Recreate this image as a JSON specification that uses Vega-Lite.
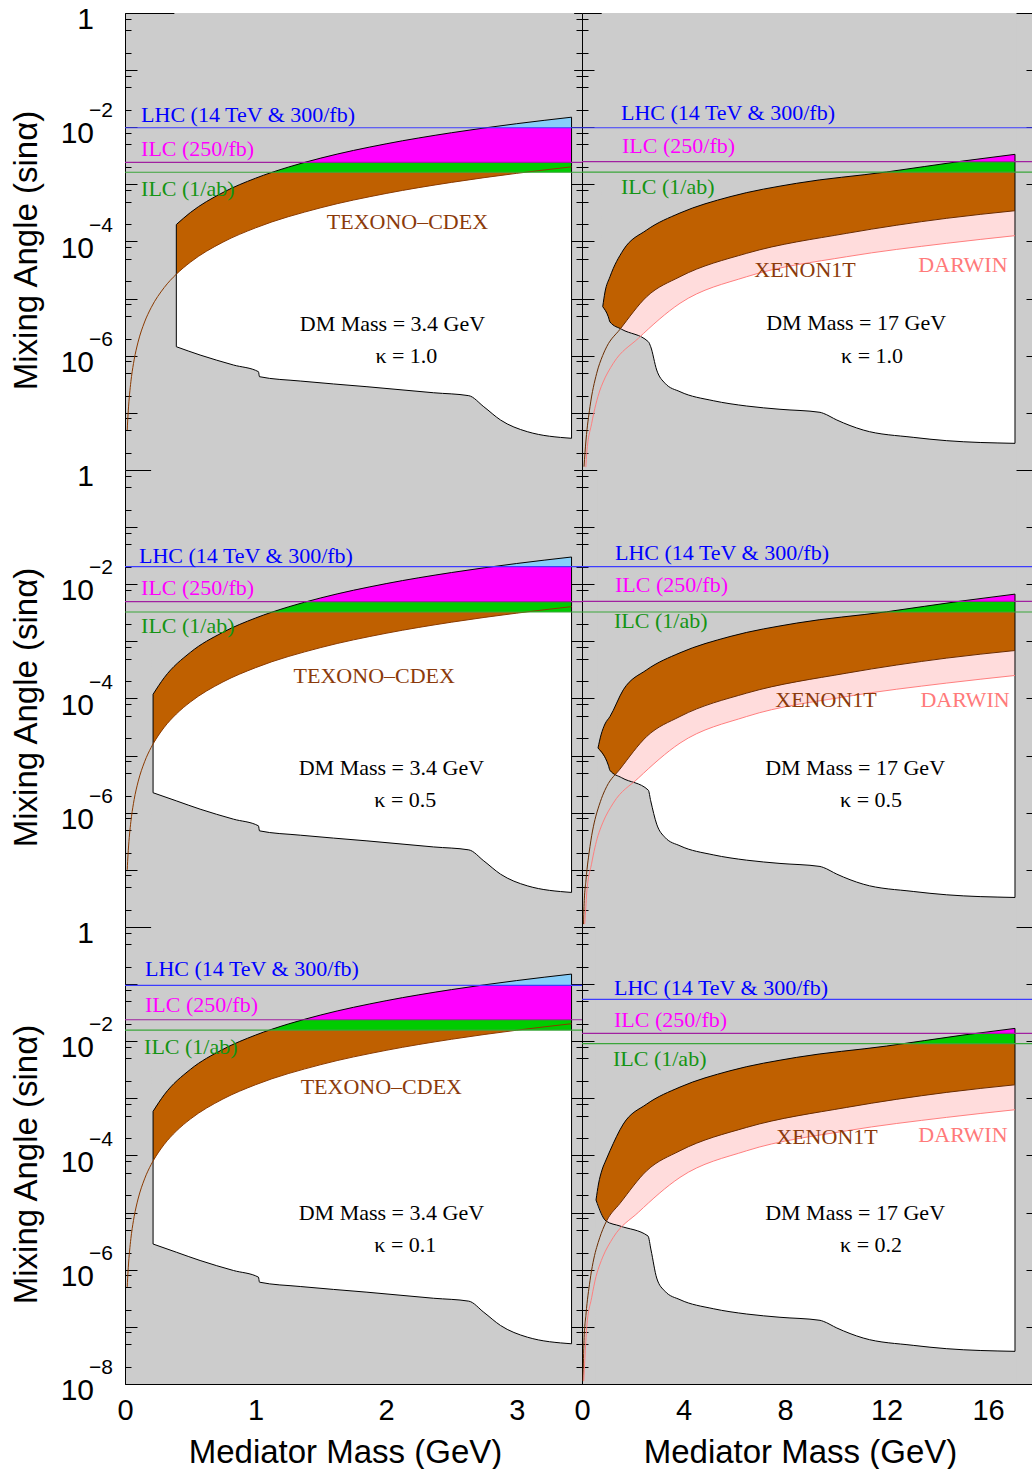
{
"$schema": "https://vega.github.io/schema/vega-lite/v6.json",
"background": "white",
"padding": {"left": 10, "top": 5, "right": 0, "bottom": 0},
"columns": 2,
"spacing": 0,
"bounds": "flush",
"config": {
  "view": {"fill": "#cccccc", "stroke": null},
  "axis": {"grid": false, "zindex": 1, "domainColor": "black", "domainWidth": 1, "tickColor": "black", "tickWidth": 1, "labelFont": "Liberation Sans", "labelFontSize": 29, "labelColor": "black", "titleFont": "Liberation Sans", "titleFontSize": 33, "titleFontWeight": "normal", "titleColor": "black", "labelFlush": false, "labelOverlap": false}
},
"datasets": {
"TL": [
{"s":"top","x":0.378,"v":1.832e-4,"ext":1},
{"s":"top","x":0.393,"v":1.98e-4},
{"s":"top","x":0.5,"v":3.205e-4},
{"s":"top","x":0.75,"v":7.211e-4},
{"s":"top","x":1.0,"v":1.282e-3},
{"s":"top","x":1.25,"v":2.003e-3},
{"s":"top","x":1.5,"v":2.885e-3},
{"s":"top","x":2.0,"v":5.128e-3},
{"s":"top","x":2.5,"v":8.013e-3},
{"s":"top","x":3.0,"v":1.154e-2},
{"s":"top","x":3.42,"v":1.4995e-2},
{"s":"top","x":3.44,"v":1.517e-2,"ext":1},
{"s":"bot","x":0.378,"v":1.479e-6,"ext":1},
{"s":"bot","x":0.393,"v":1.439e-6},
{"s":"bot","x":0.575,"v":1.03e-6},
{"s":"bot","x":0.83,"v":6.89e-7},
{"s":"bot","x":1.022,"v":5.26e-7},
{"s":"bot","x":1.03,"v":4.3e-7},
{"s":"bot","x":1.342,"v":3.61e-7},
{"s":"bot","x":1.853,"v":2.87e-7},
{"s":"bot","x":2.364,"v":2.25e-7},
{"s":"bot","x":2.633,"v":2.0e-7},
{"s":"bot","x":2.748,"v":1.28e-7},
{"s":"bot","x":2.876,"v":7.5e-8},
{"s":"bot","x":3.081,"v":4.69e-8},
{"s":"bot","x":3.42,"v":3.59e-8},
{"s":"bot","x":3.44,"v":3.56e-8,"ext":1},
{"s":"brown","x":0.017,"v":5.01e-8},
{"s":"brown","x":0.02,"v":6.93e-8},
{"s":"brown","x":0.025,"v":1.083e-7},
{"s":"brown","x":0.03,"v":1.56e-7},
{"s":"brown","x":0.04,"v":2.773e-7},
{"s":"brown","x":0.05,"v":4.333e-7},
{"s":"brown","x":0.07,"v":8.49e-7},
{"s":"brown","x":0.1,"v":1.733e-6},
{"s":"brown","x":0.15,"v":3.899e-6},
{"s":"brown","x":0.2,"v":6.932e-6},
{"s":"brown","x":0.3,"v":1.56e-5},
{"s":"brown","x":0.393,"v":2.677e-5},
{"s":"brown","x":0.5,"v":4.333e-5},
{"s":"brown","x":0.75,"v":9.748e-5},
{"s":"brown","x":1.0,"v":1.733e-4},
{"s":"brown","x":1.5,"v":3.899e-4},
{"s":"brown","x":2.0,"v":6.932e-4},
{"s":"brown","x":2.5,"v":1.083e-3},
{"s":"brown","x":3.0,"v":1.56e-3},
{"s":"brown","x":3.42,"v":2.027e-3},
{"s":"c","x0":0.393,"x1":3.42,"b0":1.439e-6,"t0":1.98e-4,"b1":3.59e-8,"t1":1.4995e-2,"lhc":0.0098,"i250":0.00243,"i1ab":0.00163},
{"s":"tl","x":0.123,"y":0.0164,"t":"LHC (14 TeV & 300/fb)","k":"lhc"},
{"s":"tl","x":0.123,"y":0.00416,"t":"ILC (250/fb)","k":"i250"},
{"s":"tl","x":0.123,"y":0.00083,"t":"ILC (1/ab)","k":"i1ab"},
{"s":"tc","x":2.163,"y":2.19e-4,"t":"TEXONO–CDEX","k":"exp"},
{"s":"tc","x":2.048,"y":3.6e-6,"t":"DM Mass = 3.4 GeV","k":"dm"},
{"s":"tc","x":2.155,"y":9.9e-7,"t":"κ  = 1.0","k":"dm"},
{"s":"yl","v":1,"b":"1","e":""},
{"s":"yl","v":0.01,"b":"10","e":"−2"},
{"s":"yl","v":1e-4,"b":"10","e":"−4"},
{"s":"yl","v":1e-6,"b":"10","e":"−6"}
],
"ML": [
{"s":"top","x":0.2,"v":1.026e-4,"ext":1},
{"s":"top","x":0.215,"v":1.185e-4},
{"s":"top","x":0.3,"v":2.308e-4},
{"s":"top","x":0.5,"v":6.41e-4},
{"s":"top","x":0.75,"v":1.442e-3},
{"s":"top","x":1.0,"v":2.564e-3},
{"s":"top","x":1.25,"v":4.006e-3},
{"s":"top","x":1.5,"v":5.769e-3},
{"s":"top","x":2.0,"v":1.0256e-2},
{"s":"top","x":2.5,"v":1.6025e-2},
{"s":"top","x":3.0,"v":2.3076e-2},
{"s":"top","x":3.42,"v":2.999e-2},
{"s":"top","x":3.44,"v":3.034e-2,"ext":1},
{"s":"bot","x":0.2,"v":2.3e-6,"ext":1},
{"s":"bot","x":0.215,"v":2.24e-6},
{"s":"bot","x":0.393,"v":1.615e-6},
{"s":"bot","x":0.575,"v":1.156e-6},
{"s":"bot","x":0.83,"v":7.73e-7},
{"s":"bot","x":1.022,"v":5.9e-7},
{"s":"bot","x":1.03,"v":4.82e-7},
{"s":"bot","x":1.342,"v":4.05e-7},
{"s":"bot","x":1.853,"v":3.22e-7},
{"s":"bot","x":2.364,"v":2.52e-7},
{"s":"bot","x":2.633,"v":2.24e-7},
{"s":"bot","x":2.748,"v":1.436e-7},
{"s":"bot","x":2.876,"v":8.42e-8},
{"s":"bot","x":3.081,"v":5.26e-8},
{"s":"bot","x":3.42,"v":4.03e-8},
{"s":"bot","x":3.44,"v":4.0e-8,"ext":1},
{"s":"brown","x":0.017,"v":1.002e-7},
{"s":"brown","x":0.02,"v":1.386e-7},
{"s":"brown","x":0.025,"v":2.166e-7},
{"s":"brown","x":0.03,"v":3.12e-7},
{"s":"brown","x":0.04,"v":5.546e-7},
{"s":"brown","x":0.05,"v":8.666e-7},
{"s":"brown","x":0.07,"v":1.698e-6},
{"s":"brown","x":0.1,"v":3.466e-6},
{"s":"brown","x":0.15,"v":7.798e-6},
{"s":"brown","x":0.2,"v":1.386e-5},
{"s":"brown","x":0.215,"v":1.602e-5},
{"s":"brown","x":0.3,"v":3.12e-5},
{"s":"brown","x":0.393,"v":5.354e-5},
{"s":"brown","x":0.5,"v":8.666e-5},
{"s":"brown","x":0.75,"v":1.95e-4},
{"s":"brown","x":1.0,"v":3.466e-4},
{"s":"brown","x":1.5,"v":7.798e-4},
{"s":"brown","x":2.0,"v":1.386e-3},
{"s":"brown","x":2.5,"v":2.166e-3},
{"s":"brown","x":3.0,"v":3.12e-3},
{"s":"brown","x":3.42,"v":4.054e-3},
{"s":"c","x0":0.215,"x1":3.42,"b0":2.24e-6,"t0":1.185e-4,"b1":4.03e-8,"t1":2.999e-2,"lhc":0.0203,"i250":0.00495,"i1ab":0.00327},
{"s":"tl","x":0.107,"y":0.0312,"t":"LHC (14 TeV & 300/fb)","k":"lhc"},
{"s":"tl","x":0.123,"y":0.0086,"t":"ILC (250/fb)","k":"i250"},
{"s":"tl","x":0.123,"y":0.00186,"t":"ILC (1/ab)","k":"i1ab"},
{"s":"tc","x":1.909,"y":2.48e-4,"t":"TEXONO–CDEX","k":"exp"},
{"s":"tc","x":2.04,"y":6.07e-6,"t":"DM Mass = 3.4 GeV","k":"dm"},
{"s":"tc","x":2.147,"y":1.67e-6,"t":"κ  = 0.5","k":"dm"},
{"s":"yl","v":1,"b":"1","e":""},
{"s":"yl","v":0.01,"b":"10","e":"−2"},
{"s":"yl","v":1e-4,"b":"10","e":"−4"},
{"s":"yl","v":1e-6,"b":"10","e":"−6"}
],
"BL": [
{"s":"top","x":0.2,"v":5.128e-4,"ext":1},
{"s":"top","x":0.215,"v":5.926e-4},
{"s":"top","x":0.3,"v":1.154e-3},
{"s":"top","x":0.5,"v":3.205e-3},
{"s":"top","x":0.75,"v":7.211e-3},
{"s":"top","x":1.0,"v":1.282e-2},
{"s":"top","x":1.25,"v":2.003e-2},
{"s":"top","x":1.5,"v":2.885e-2},
{"s":"top","x":2.0,"v":5.128e-2},
{"s":"top","x":2.5,"v":8.013e-2},
{"s":"top","x":3.0,"v":0.1154},
{"s":"top","x":3.42,"v":0.14995},
{"s":"top","x":3.44,"v":0.1517,"ext":1},
{"s":"bot","x":0.2,"v":2.9e-6,"ext":1},
{"s":"bot","x":0.215,"v":2.82e-6},
{"s":"bot","x":0.393,"v":2.029e-6},
{"s":"bot","x":0.575,"v":1.452e-6},
{"s":"bot","x":0.83,"v":9.71e-7},
{"s":"bot","x":1.022,"v":7.42e-7},
{"s":"bot","x":1.03,"v":6.06e-7},
{"s":"bot","x":1.342,"v":5.09e-7},
{"s":"bot","x":1.853,"v":4.05e-7},
{"s":"bot","x":2.364,"v":3.17e-7},
{"s":"bot","x":2.633,"v":2.82e-7},
{"s":"bot","x":2.748,"v":1.8e-7},
{"s":"bot","x":2.876,"v":1.058e-7},
{"s":"bot","x":3.081,"v":6.61e-8},
{"s":"bot","x":3.42,"v":5.06e-8},
{"s":"bot","x":3.44,"v":5.02e-8,"ext":1},
{"s":"brown","x":0.017,"v":5.01e-7},
{"s":"brown","x":0.02,"v":6.93e-7},
{"s":"brown","x":0.025,"v":1.083e-6},
{"s":"brown","x":0.03,"v":1.56e-6},
{"s":"brown","x":0.04,"v":2.773e-6},
{"s":"brown","x":0.05,"v":4.333e-6},
{"s":"brown","x":0.07,"v":8.49e-6},
{"s":"brown","x":0.1,"v":1.733e-5},
{"s":"brown","x":0.15,"v":3.899e-5},
{"s":"brown","x":0.2,"v":6.932e-5},
{"s":"brown","x":0.215,"v":8.011e-5},
{"s":"brown","x":0.3,"v":1.56e-4},
{"s":"brown","x":0.393,"v":2.677e-4},
{"s":"brown","x":0.5,"v":4.333e-4},
{"s":"brown","x":0.75,"v":9.748e-4},
{"s":"brown","x":1.0,"v":1.733e-3},
{"s":"brown","x":1.5,"v":3.899e-3},
{"s":"brown","x":2.0,"v":6.932e-3},
{"s":"brown","x":2.5,"v":1.083e-2},
{"s":"brown","x":3.0,"v":1.56e-2},
{"s":"brown","x":3.42,"v":2.027e-2},
{"s":"c","x0":0.215,"x1":3.42,"b0":2.82e-6,"t0":5.926e-4,"b1":5.06e-8,"t1":0.14995,"lhc":0.0953,"i250":0.0238,"i1ab":0.0157},
{"s":"tl","x":0.153,"y":0.184,"t":"LHC (14 TeV & 300/fb)","k":"lhc"},
{"s":"tl","x":0.153,"y":0.0431,"t":"ILC (250/fb)","k":"i250"},
{"s":"tl","x":0.146,"y":0.00793,"t":"ILC (1/ab)","k":"i1ab"},
{"s":"tc","x":1.963,"y":1.58e-3,"t":"TEXONO–CDEX","k":"exp"},
{"s":"tc","x":2.04,"y":9.85e-6,"t":"DM Mass = 3.4 GeV","k":"dm"},
{"s":"tc","x":2.147,"y":2.71e-6,"t":"κ  = 0.1","k":"dm"},
{"s":"yl","v":1,"b":"1","e":""},
{"s":"yl","v":0.01,"b":"10","e":"−2"},
{"s":"yl","v":1e-4,"b":"10","e":"−4"},
{"s":"yl","v":1e-6,"b":"10","e":"−6"},
{"s":"yl","v":1e-8,"b":"10","e":"−8"}
],
"TR": [
{"s":"top","x":0.776,"v":5.56e-6,"ext":1},
{"s":"top","x":0.816,"v":7.23e-6},
{"s":"top","x":0.906,"v":1.306e-5},
{"s":"top","x":1.103,"v":2.421e-5},
{"s":"top","x":1.627,"v":7.1e-5},
{"s":"top","x":2.549,"v":1.589e-4},
{"s":"top","x":3.861,"v":3.155e-4},
{"s":"top","x":5.831,"v":6.08e-4},
{"s":"top","x":8.459,"v":1.045e-3},
{"s":"top","x":12.0,"v":1.648e-3},
{"s":"top","x":15.01,"v":2.564e-3},
{"s":"top","x":17.06,"v":3.357e-3},
{"s":"top","x":17.12,"v":3.388e-3,"ext":1},
{"s":"bot","x":0.776,"v":7.78e-6,"ext":1},
{"s":"bot","x":0.816,"v":7.23e-6},
{"s":"bot","x":1.036,"v":4.82e-6},
{"s":"bot","x":1.103,"v":3.9e-6},
{"s":"bot","x":1.564,"v":2.904e-6},
{"s":"bot","x":2.612,"v":1.762e-6},
{"s":"bot","x":2.707,"v":1.439e-6},
{"s":"bot","x":2.943,"v":5.62e-7},
{"s":"bot","x":3.27,"v":3.3e-7},
{"s":"bot","x":3.861,"v":2.35e-7},
{"s":"bot","x":5.173,"v":1.633e-7},
{"s":"bot","x":6.489,"v":1.318e-7},
{"s":"bot","x":7.801,"v":1.156e-7},
{"s":"bot","x":9.377,"v":1.023e-7},
{"s":"bot","x":9.507,"v":9.82e-8},
{"s":"bot","x":10.04,"v":7.5e-8},
{"s":"bot","x":11.08,"v":5.01e-8},
{"s":"bot","x":13.05,"v":3.73e-8},
{"s":"bot","x":14.37,"v":3.26e-8},
{"s":"bot","x":17.06,"v":2.93e-8},
{"s":"bot","x":17.12,"v":2.92e-8,"ext":1},
{"s":"brown","x":0.079,"v":1.143e-8},
{"s":"brown","x":0.158,"v":3.35e-8},
{"s":"brown","x":0.315,"v":1.282e-7},
{"s":"brown","x":0.579,"v":4.93e-7},
{"s":"brown","x":0.816,"v":1.012e-6},
{"s":"brown","x":0.973,"v":1.439e-6},
{"s":"brown","x":1.497,"v":2.904e-6},
{"s":"brown","x":2.549,"v":1.081e-5},
{"s":"brown","x":3.861,"v":2.421e-5},
{"s":"brown","x":6.489,"v":6.21e-5},
{"s":"brown","x":10.43,"v":1.39e-4},
{"s":"brown","x":14.37,"v":2.547e-4},
{"s":"brown","x":17.06,"v":3.459e-4},
{"s":"pink","x":0.152,"v":1.122e-8},
{"s":"pink","x":0.185,"v":1.959e-8},
{"s":"pink","x":0.382,"v":6.56e-8},
{"s":"pink","x":0.709,"v":2.512e-7},
{"s":"pink","x":0.816,"v":3.33e-7},
{"s":"pink","x":1.233,"v":7.38e-7},
{"s":"pink","x":2.218,"v":2.018e-6},
{"s":"pink","x":3.861,"v":8.28e-6},
{"s":"pink","x":6.489,"v":2.421e-5},
{"s":"pink","x":10.43,"v":5.42e-5},
{"s":"pink","x":14.37,"v":9.31e-5},
{"s":"pink","x":17.06,"v":1.265e-4},
{"s":"c","x0":0.816,"x1":17.06,"b1":2.93e-8,"t1":3.357e-3,"lhc":0.0098,"i250":0.0025,"i1ab":0.00164},
{"s":"tl","x":1.537,"y":0.01775,"t":"LHC (14 TeV & 300/fb)","k":"lhc"},
{"s":"tl","x":1.576,"y":0.0047,"t":"ILC (250/fb)","k":"i250"},
{"s":"tl","x":1.537,"y":0.0009,"t":"ILC (1/ab)","k":"i1ab"},
{"s":"tc","x":8.787,"y":3.17e-5,"t":"XENON1T","k":"exp"},
{"s":"tc","x":15.01,"y":3.88e-5,"t":"DARWIN","k":"darwin"},
{"s":"tc","x":10.8,"y":3.74e-6,"t":"DM Mass = 17 GeV","k":"dm"},
{"s":"tc","x":11.43,"y":9.9e-7,"t":"κ  = 1.0","k":"dm"}
],
"MR": [
{"s":"top","x":0.6,"v":1.148e-5,"ext":1},
{"s":"top","x":0.63,"v":1.358e-5},
{"s":"top","x":0.749,"v":2.3e-5},
{"s":"top","x":0.906,"v":3.58e-5},
{"s":"top","x":1.103,"v":4.842e-5},
{"s":"top","x":1.627,"v":1.42e-4},
{"s":"top","x":2.549,"v":3.178e-4},
{"s":"top","x":3.861,"v":6.31e-4},
{"s":"top","x":5.831,"v":1.216e-3},
{"s":"top","x":8.459,"v":2.09e-3},
{"s":"top","x":12.0,"v":3.296e-3},
{"s":"top","x":15.01,"v":5.128e-3},
{"s":"top","x":17.06,"v":6.714e-3},
{"s":"top","x":17.12,"v":6.776e-3,"ext":1},
{"s":"bot","x":0.6,"v":1.429e-5,"ext":1},
{"s":"bot","x":0.63,"v":1.358e-5},
{"s":"bot","x":1.036,"v":6.82e-6},
{"s":"bot","x":1.103,"v":5.51e-6},
{"s":"bot","x":1.564,"v":4.1e-6},
{"s":"bot","x":2.612,"v":2.49e-6},
{"s":"bot","x":2.707,"v":1.616e-6},
{"s":"bot","x":2.943,"v":6.31e-7},
{"s":"bot","x":3.27,"v":3.7e-7},
{"s":"bot","x":3.861,"v":2.637e-7},
{"s":"bot","x":5.173,"v":1.832e-7},
{"s":"bot","x":6.489,"v":1.479e-7},
{"s":"bot","x":7.801,"v":1.297e-7},
{"s":"bot","x":9.377,"v":1.148e-7},
{"s":"bot","x":9.507,"v":1.102e-7},
{"s":"bot","x":10.04,"v":8.42e-8},
{"s":"bot","x":11.08,"v":5.62e-8},
{"s":"bot","x":13.05,"v":4.19e-8},
{"s":"bot","x":14.37,"v":3.66e-8},
{"s":"bot","x":17.06,"v":3.29e-8},
{"s":"bot","x":17.12,"v":3.28e-8,"ext":1},
{"s":"brown","x":0.0607,"v":1.122e-8},
{"s":"brown","x":0.079,"v":2.286e-8},
{"s":"brown","x":0.158,"v":6.7e-8},
{"s":"brown","x":0.315,"v":2.564e-7},
{"s":"brown","x":0.579,"v":9.86e-7},
{"s":"brown","x":0.63,"v":1.167e-6},
{"s":"brown","x":0.816,"v":2.024e-6},
{"s":"brown","x":0.973,"v":2.878e-6},
{"s":"brown","x":1.497,"v":5.808e-6},
{"s":"brown","x":2.549,"v":2.162e-5},
{"s":"brown","x":3.861,"v":4.842e-5},
{"s":"brown","x":6.489,"v":1.242e-4},
{"s":"brown","x":10.43,"v":2.78e-4},
{"s":"brown","x":14.37,"v":5.094e-4},
{"s":"brown","x":17.06,"v":6.918e-4},
{"s":"pink","x":0.107,"v":1.122e-8},
{"s":"pink","x":0.152,"v":2.244e-8},
{"s":"pink","x":0.185,"v":3.918e-8},
{"s":"pink","x":0.382,"v":1.312e-7},
{"s":"pink","x":0.63,"v":3.97e-7},
{"s":"pink","x":0.709,"v":5.024e-7},
{"s":"pink","x":0.816,"v":6.66e-7},
{"s":"pink","x":1.233,"v":1.476e-6},
{"s":"pink","x":2.218,"v":4.036e-6},
{"s":"pink","x":3.861,"v":1.656e-5},
{"s":"pink","x":6.489,"v":4.842e-5},
{"s":"pink","x":10.43,"v":1.084e-4},
{"s":"pink","x":14.37,"v":1.862e-4},
{"s":"pink","x":17.06,"v":2.53e-4},
{"s":"c","x0":0.63,"x1":17.06,"b1":3.29e-8,"t1":6.714e-3,"lhc":0.0203,"i250":0.005,"i1ab":0.00327},
{"s":"tl","x":1.3,"y":0.0352,"t":"LHC (14 TeV & 300/fb)","k":"lhc"},
{"s":"tl","x":1.3,"y":0.0097,"t":"ILC (250/fb)","k":"i250"},
{"s":"tl","x":1.261,"y":0.00227,"t":"ILC (1/ab)","k":"i1ab"},
{"s":"tc","x":9.614,"y":9.42e-5,"t":"XENON1T","k":"exp"},
{"s":"tc","x":15.09,"y":9.42e-5,"t":"DARWIN","k":"darwin"},
{"s":"tc","x":10.76,"y":6.07e-6,"t":"DM Mass = 17 GeV","k":"dm"},
{"s":"tc","x":11.39,"y":1.67e-6,"t":"κ  = 0.5","k":"dm"}
],
"BR": [
{"s":"top","x":0.52,"v":1.35e-5,"ext":1},
{"s":"top","x":0.552,"v":1.663e-5},
{"s":"top","x":0.65,"v":3.17e-5},
{"s":"top","x":0.788,"v":5.57e-5},
{"s":"top","x":0.946,"v":8.34e-5},
{"s":"top","x":1.103,"v":1.2105e-4},
{"s":"top","x":1.627,"v":3.55e-4},
{"s":"top","x":2.549,"v":7.945e-4},
{"s":"top","x":3.861,"v":1.5775e-3},
{"s":"top","x":5.831,"v":3.04e-3},
{"s":"top","x":8.459,"v":5.225e-3},
{"s":"top","x":12.0,"v":8.24e-3},
{"s":"top","x":15.01,"v":1.282e-2},
{"s":"top","x":17.06,"v":1.6785e-2},
{"s":"top","x":17.12,"v":1.694e-2,"ext":1},
{"s":"bot","x":0.52,"v":1.78e-5,"ext":1},
{"s":"bot","x":0.552,"v":1.663e-5},
{"s":"bot","x":0.946,"v":7.13e-6},
{"s":"bot","x":1.497,"v":5.83e-6},
{"s":"bot","x":2.6,"v":3.9e-6},
{"s":"bot","x":2.719,"v":2.22e-6},
{"s":"bot","x":2.943,"v":7.16e-7},
{"s":"bot","x":3.27,"v":4.2e-7},
{"s":"bot","x":3.861,"v":2.994e-7},
{"s":"bot","x":5.173,"v":2.08e-7},
{"s":"bot","x":6.489,"v":1.679e-7},
{"s":"bot","x":7.801,"v":1.473e-7},
{"s":"bot","x":9.377,"v":1.303e-7},
{"s":"bot","x":9.507,"v":1.251e-7},
{"s":"bot","x":10.04,"v":9.56e-8},
{"s":"bot","x":11.08,"v":6.38e-8},
{"s":"bot","x":13.05,"v":4.75e-8},
{"s":"bot","x":14.37,"v":4.15e-8},
{"s":"bot","x":17.06,"v":3.73e-8},
{"s":"bot","x":17.12,"v":3.72e-8,"ext":1},
{"s":"brown","x":0.0384,"v":1.122e-8},
{"s":"brown","x":0.079,"v":5.715e-8},
{"s":"brown","x":0.158,"v":1.675e-7},
{"s":"brown","x":0.315,"v":6.41e-7},
{"s":"brown","x":0.552,"v":2.24e-6},
{"s":"brown","x":0.579,"v":2.465e-6},
{"s":"brown","x":0.816,"v":5.06e-6},
{"s":"brown","x":0.973,"v":7.195e-6},
{"s":"brown","x":1.497,"v":1.452e-5},
{"s":"brown","x":2.549,"v":5.405e-5},
{"s":"brown","x":3.861,"v":1.2105e-4},
{"s":"brown","x":6.489,"v":3.105e-4},
{"s":"brown","x":10.43,"v":6.95e-4},
{"s":"brown","x":14.37,"v":1.2735e-3},
{"s":"brown","x":17.06,"v":1.7295e-3},
{"s":"pink","x":0.068,"v":1.122e-8},
{"s":"pink","x":0.152,"v":5.61e-8},
{"s":"pink","x":0.185,"v":9.795e-8},
{"s":"pink","x":0.382,"v":3.28e-7},
{"s":"pink","x":0.552,"v":7.61e-7},
{"s":"pink","x":0.709,"v":1.256e-6},
{"s":"pink","x":0.816,"v":1.665e-6},
{"s":"pink","x":1.233,"v":3.69e-6},
{"s":"pink","x":2.218,"v":1.009e-5},
{"s":"pink","x":3.861,"v":4.14e-5},
{"s":"pink","x":6.489,"v":1.2105e-4},
{"s":"pink","x":10.43,"v":2.71e-4},
{"s":"pink","x":14.37,"v":4.655e-4},
{"s":"pink","x":17.06,"v":6.325e-4},
{"s":"c","x0":0.552,"x1":17.06,"b1":3.73e-8,"t1":1.6785e-2,"lhc":0.0542,"i250":0.01377,"i1ab":0.00906},
{"s":"tl","x":1.261,"y":0.0855,"t":"LHC (14 TeV & 300/fb)","k":"lhc"},
{"s":"tl","x":1.261,"y":0.0236,"t":"ILC (250/fb)","k":"i250"},
{"s":"tl","x":1.221,"y":0.00489,"t":"ILC (1/ab)","k":"i1ab"},
{"s":"tc","x":9.653,"y":2.07e-4,"t":"XENON1T","k":"exp"},
{"s":"tc","x":15.01,"y":2.24e-4,"t":"DARWIN","k":"darwin"},
{"s":"tc","x":10.76,"y":9.85e-6,"t":"DM Mass = 17 GeV","k":"dm"},
{"s":"tc","x":11.39,"y":2.71e-6,"t":"κ  = 0.2","k":"dm"}
]
},
"concat": [
{
 "width": 457, "height": 457, "data": {"name": "TL"},
 "resolve": {"axis": {"x": "independent", "y": "independent"}},
 "layer": [
  {"transform":[{"filter":"datum.s==='c'"}],"mark":{"type":"rect","fill":"white"},"encoding":{"x":{"field":"x0","type":"quantitative","scale":{"domain":[0,3.5],"nice":false,"zero":false},"axis":null},"x2":{"field":"x1"},"y":{"datum":1e-8,"type":"quantitative","scale":{"type":"log","domain":[1e-8,1],"nice":false},"axis":null},"y2":{"datum":1}}},
  {"transform":[{"filter":"datum.s==='brown' && datum.x >= 0.393 && datum.x <= 3.42"}],"mark":{"type":"area","orient":"vertical","interpolate":"monotone","fill":"#bf6000"},"encoding":{"x":{"field":"x","type":"quantitative","axis":{"orient":"top","values":[0.5,1,1.5,2,2.5,3],"tickSize":-12,"labels":false,"domain":true,"title":null}},"y":{"field":"v","type":"quantitative","axis":{"orient":"right","values":[1,0.1,0.01,0.001,1e-4,1e-5,1e-6,1e-7,1e-8],"tickSize":-12,"labels":false,"domain":true,"title":null}},"y2":{"datum":1}}},
  {"transform":[{"filter":"datum.s==='c'"}],"mark":{"type":"rect","fill":"#00cc00"},"encoding":{"x":{"field":"x0","type":"quantitative","axis":null},"x2":{"field":"x1"},"y":{"field":"i1ab","type":"quantitative","axis":{"orient":"right","values":[0.8,0.5,0.2,0.08,0.05,0.02,0.008,0.005,0.002,8e-4,5e-4,2e-4,8e-5,5e-5,2e-5,8e-6,5e-6,2e-6,8e-7,5e-7,2e-7,8e-8,5e-8,2e-8],"tickSize":-6,"labels":false,"domain":false,"title":null}},"y2":{"datum":1}}},
  {"transform":[{"filter":"datum.s==='c'"}],"mark":{"type":"rect","fill":"#ff00ff"},"encoding":{"x":{"field":"x0","type":"quantitative","axis":null},"x2":{"field":"x1"},"y":{"field":"i250","type":"quantitative","axis":null},"y2":{"datum":1}}},
  {"transform":[{"filter":"datum.s==='c'"}],"mark":{"type":"rect","fill":"#87cefa"},"encoding":{"x":{"field":"x0","type":"quantitative","axis":null},"x2":{"field":"x1"},"y":{"field":"lhc","type":"quantitative","axis":null},"y2":{"datum":1}}},
  {"transform":[{"filter":"datum.s==='top'"}],"mark":{"type":"area","orient":"vertical","interpolate":"monotone","fill":"#cccccc"},"encoding":{"x":{"field":"x","type":"quantitative","axis":{"orient":"bottom","values":[0.5,1,1.5,2,2.5,3],"tickSize":-12,"labels":false,"domain":true,"title":null}},"y":{"field":"v","type":"quantitative","axis":{"orient":"left","values":[1,0.1,0.01,0.001,1e-4,1e-5,1e-6,1e-7,1e-8],"tickSize":-12,"labels":false,"domain":true,"title":"Mixing Angle (sinα)","titleX":-99,"titleY":237,"titleAngle":270,"titleBaseline":"middle","titleAlign":"center"}},"y2":{"datum":1}}},
  {"transform":[{"filter":"datum.s==='bot'"}],"mark":{"type":"area","orient":"vertical","interpolate":"monotone","fill":"#cccccc"},"encoding":{"x":{"field":"x","type":"quantitative","axis":null},"y":{"field":"v","type":"quantitative","axis":{"orient":"left","values":[0.8,0.5,0.2,0.08,0.05,0.02,0.008,0.005,0.002,8e-4,5e-4,2e-4,8e-5,5e-5,2e-5,8e-6,5e-6,2e-6,8e-7,5e-7,2e-7,8e-8,5e-8,2e-8],"tickSize":-6,"labels":false,"domain":false,"title":null}},"y2":{"datum":1e-8}}},
  {"transform":[{"filter":"datum.s==='top' && !datum.ext"}],"mark":{"type":"line","interpolate":"monotone","stroke":"black","strokeWidth":1},"encoding":{"x":{"field":"x","type":"quantitative","axis":null},"y":{"field":"v","type":"quantitative","axis":null}}},
  {"transform":[{"filter":"datum.s==='bot' && !datum.ext"}],"mark":{"type":"line","interpolate":"monotone","stroke":"black","strokeWidth":1},"encoding":{"x":{"field":"x","type":"quantitative","axis":null},"y":{"field":"v","type":"quantitative","axis":null}}},
  {"transform":[{"filter":"datum.s==='c'"}],"mark":{"type":"rule","stroke":"black","strokeWidth":1},"encoding":{"x":{"field":"x0","type":"quantitative","axis":null},"y":{"field":"b0","type":"quantitative","axis":null},"y2":{"field":"t0"}}},
  {"transform":[{"filter":"datum.s==='c'"}],"mark":{"type":"rule","stroke":"black","strokeWidth":1},"encoding":{"x":{"field":"x1","type":"quantitative","axis":null},"y":{"field":"b1","type":"quantitative","axis":null},"y2":{"field":"t1"}}},
  {"transform":[{"filter":"datum.s==='brown'"}],"mark":{"type":"line","interpolate":"monotone","stroke":"#8b3a00","strokeWidth":1},"encoding":{"x":{"field":"x","type":"quantitative","axis":null},"y":{"field":"v","type":"quantitative","axis":null}}},
  {"transform":[{"filter":"datum.s==='c'"}],"mark":{"type":"rule","stroke":"#3c3cff","strokeWidth":1.2},"encoding":{"y":{"field":"lhc","type":"quantitative","axis":null}}},
  {"transform":[{"filter":"datum.s==='c'"}],"mark":{"type":"rule","stroke":"#a020a0","strokeWidth":1.2},"encoding":{"y":{"field":"i250","type":"quantitative","axis":null}}},
  {"transform":[{"filter":"datum.s==='c'"}],"mark":{"type":"rule","stroke":"#3aa63a","strokeWidth":1.2},"encoding":{"y":{"field":"i1ab","type":"quantitative","axis":null}}},
  {"transform":[{"filter":"datum.s==='tl'"}],"mark":{"type":"text","align":"left","baseline":"middle","font":"Liberation Serif","fontSize":22},"encoding":{"x":{"field":"x","type":"quantitative","axis":null},"y":{"field":"y","type":"quantitative","axis":null},"text":{"field":"t"},"color":{"field":"k","type":"nominal","scale":{"domain":["lhc","i250","i1ab","exp","darwin","dm"],"range":["#0000ff","#ff00ff","#149414","#8b3a0a","#ff7a7a","#000000"]},"legend":null}}},
  {"transform":[{"filter":"datum.s==='tc'"}],"mark":{"type":"text","align":"center","baseline":"middle","font":"Liberation Serif","fontSize":22},"encoding":{"x":{"field":"x","type":"quantitative","axis":null},"y":{"field":"y","type":"quantitative","axis":null},"text":{"field":"t"},"color":{"field":"k","type":"nominal","scale":{"domain":["lhc","i250","i1ab","exp","darwin","dm"],"range":["#0000ff","#ff00ff","#149414","#8b3a0a","#ff7a7a","#000000"]},"legend":null}}},
  {"transform":[{"filter":"datum.s==='yl'"}],"mark":{"type":"text","align":"right","baseline":"middle","font":"Liberation Sans","fontSize":30,"dx":-31,"dy":7,"color":"black"},"encoding":{"x":{"datum":0,"type":"quantitative","axis":null},"y":{"field":"v","type":"quantitative","axis":null},"text":{"field":"b"}}},
  {"transform":[{"filter":"datum.s==='yl' && datum.e !== ''"}],"mark":{"type":"text","align":"left","baseline":"middle","font":"Liberation Sans","fontSize":21,"dx":-36,"dy":-16,"color":"black"},"encoding":{"x":{"datum":0,"type":"quantitative","axis":null},"y":{"field":"v","type":"quantitative","axis":null},"text":{"field":"e"}}}
 ]
},
{
 "width": 450, "height": 457, "data": {"name": "TR"},
 "resolve": {"axis": {"x": "independent", "y": "independent"}},
 "layer": [
  {"transform":[{"filter":"datum.s==='c'"}],"mark":{"type":"rect","fill":"white"},"encoding":{"x":{"field":"x0","type":"quantitative","scale":{"domain":[0,17.73],"nice":false,"zero":false},"axis":null},"x2":{"field":"x1"},"y":{"datum":1e-8,"type":"quantitative","scale":{"type":"log","domain":[1e-8,1],"nice":false},"axis":null},"y2":{"datum":1}}},
  {"transform":[{"filter":"datum.s==='pink' && datum.x >= 0.816 && datum.x <= 17.06"}],"mark":{"type":"area","orient":"vertical","interpolate":"monotone","fill":"#ffdcdc"},"encoding":{"x":{"field":"x","type":"quantitative","axis":{"orient":"top","values":[2,4,6,8,10,12,14,16],"tickSize":-12,"labels":false,"domain":true,"title":null}},"y":{"field":"v","type":"quantitative","axis":{"orient":"right","values":[1,0.1,0.01,0.001,1e-4,1e-5,1e-6,1e-7,1e-8],"tickSize":-6,"labels":false,"domain":false,"title":null}},"y2":{"datum":1}}},
  {"transform":[{"filter":"datum.s==='brown' && datum.x >= 0.816 && datum.x <= 17.06"}],"mark":{"type":"area","orient":"vertical","interpolate":"monotone","fill":"#bf6000"},"encoding":{"x":{"field":"x","type":"quantitative","axis":null},"y":{"field":"v","type":"quantitative","axis":null},"y2":{"datum":1}}},
  {"transform":[{"filter":"datum.s==='c'"}],"mark":{"type":"rect","fill":"#00cc00"},"encoding":{"x":{"field":"x0","type":"quantitative","axis":null},"x2":{"field":"x1"},"y":{"field":"i1ab","type":"quantitative","axis":null},"y2":{"datum":1}}},
  {"transform":[{"filter":"datum.s==='c'"}],"mark":{"type":"rect","fill":"#ff00ff"},"encoding":{"x":{"field":"x0","type":"quantitative","axis":null},"x2":{"field":"x1"},"y":{"field":"i250","type":"quantitative","axis":null},"y2":{"datum":1}}},
  {"transform":[{"filter":"datum.s==='c'"}],"mark":{"type":"rect","fill":"#87cefa"},"encoding":{"x":{"field":"x0","type":"quantitative","axis":null},"x2":{"field":"x1"},"y":{"field":"lhc","type":"quantitative","axis":null},"y2":{"datum":1}}},
  {"transform":[{"filter":"datum.s==='top'"}],"mark":{"type":"area","orient":"vertical","interpolate":"monotone","fill":"#cccccc"},"encoding":{"x":{"field":"x","type":"quantitative","axis":{"orient":"bottom","values":[2,4,6,8,10,12,14,16],"tickSize":-12,"labels":false,"domain":true,"title":null}},"y":{"field":"v","type":"quantitative","axis":{"orient":"left","values":[1,0.1,0.01,0.001,1e-4,1e-5,1e-6,1e-7,1e-8],"tickSize":-12,"labels":false,"domain":true,"title":null}},"y2":{"datum":1}}},
  {"transform":[{"filter":"datum.s==='bot'"}],"mark":{"type":"area","orient":"vertical","interpolate":"monotone","fill":"#cccccc"},"encoding":{"x":{"field":"x","type":"quantitative","axis":null},"y":{"field":"v","type":"quantitative","axis":{"orient":"left","values":[0.8,0.5,0.2,0.08,0.05,0.02,0.008,0.005,0.002,8e-4,5e-4,2e-4,8e-5,5e-5,2e-5,8e-6,5e-6,2e-6,8e-7,5e-7,2e-7,8e-8,5e-8,2e-8],"tickSize":-6,"labels":false,"domain":false,"title":null}},"y2":{"datum":1e-8}}},
  {"transform":[{"filter":"datum.s==='top' && !datum.ext"}],"mark":{"type":"line","interpolate":"monotone","stroke":"black","strokeWidth":1},"encoding":{"x":{"field":"x","type":"quantitative","axis":null},"y":{"field":"v","type":"quantitative","axis":null}}},
  {"transform":[{"filter":"datum.s==='bot' && !datum.ext"}],"mark":{"type":"line","interpolate":"monotone","stroke":"black","strokeWidth":1},"encoding":{"x":{"field":"x","type":"quantitative","axis":null},"y":{"field":"v","type":"quantitative","axis":null}}},
  {"transform":[{"filter":"datum.s==='c'"}],"mark":{"type":"rule","stroke":"black","strokeWidth":1},"encoding":{"x":{"field":"x1","type":"quantitative","axis":null},"y":{"field":"b1","type":"quantitative","axis":null},"y2":{"field":"t1"}}},
  {"transform":[{"filter":"datum.s==='brown'"}],"mark":{"type":"line","interpolate":"monotone","stroke":"#6a2c00","strokeWidth":1},"encoding":{"x":{"field":"x","type":"quantitative","axis":null},"y":{"field":"v","type":"quantitative","axis":null}}},
  {"transform":[{"filter":"datum.s==='pink'"}],"mark":{"type":"line","interpolate":"monotone","stroke":"#ff7f7f","strokeWidth":1},"encoding":{"x":{"field":"x","type":"quantitative","axis":null},"y":{"field":"v","type":"quantitative","axis":null}}},
  {"transform":[{"filter":"datum.s==='c'"}],"mark":{"type":"rule","stroke":"#3c3cff","strokeWidth":1.2},"encoding":{"y":{"field":"lhc","type":"quantitative","axis":null}}},
  {"transform":[{"filter":"datum.s==='c'"}],"mark":{"type":"rule","stroke":"#a020a0","strokeWidth":1.2},"encoding":{"y":{"field":"i250","type":"quantitative","axis":null}}},
  {"transform":[{"filter":"datum.s==='c'"}],"mark":{"type":"rule","stroke":"#3aa63a","strokeWidth":1.2},"encoding":{"y":{"field":"i1ab","type":"quantitative","axis":null}}},
  {"transform":[{"filter":"datum.s==='tl'"}],"mark":{"type":"text","align":"left","baseline":"middle","font":"Liberation Serif","fontSize":22},"encoding":{"x":{"field":"x","type":"quantitative","axis":null},"y":{"field":"y","type":"quantitative","axis":null},"text":{"field":"t"},"color":{"field":"k","type":"nominal","scale":{"domain":["lhc","i250","i1ab","exp","darwin","dm"],"range":["#0000ff","#ff00ff","#149414","#8b3a0a","#ff7a7a","#000000"]},"legend":null}}},
  {"transform":[{"filter":"datum.s==='tc'"}],"mark":{"type":"text","align":"center","baseline":"middle","font":"Liberation Serif","fontSize":22},"encoding":{"x":{"field":"x","type":"quantitative","axis":null},"y":{"field":"y","type":"quantitative","axis":null},"text":{"field":"t"},"color":{"field":"k","type":"nominal","scale":{"domain":["lhc","i250","i1ab","exp","darwin","dm"],"range":["#0000ff","#ff00ff","#149414","#8b3a0a","#ff7a7a","#000000"]},"legend":null}}}
 ]
},
{
 "width": 457, "height": 457, "data": {"name": "ML"},
 "resolve": {"axis": {"x": "independent", "y": "independent"}},
 "layer": [
  {"transform":[{"filter":"datum.s==='c'"}],"mark":{"type":"rect","fill":"white"},"encoding":{"x":{"field":"x0","type":"quantitative","scale":{"domain":[0,3.5],"nice":false,"zero":false},"axis":null},"x2":{"field":"x1"},"y":{"datum":1e-8,"type":"quantitative","scale":{"type":"log","domain":[1e-8,1],"nice":false},"axis":null},"y2":{"datum":1}}},
  {"transform":[{"filter":"datum.s==='brown' && datum.x >= 0.215 && datum.x <= 3.42"}],"mark":{"type":"area","orient":"vertical","interpolate":"monotone","fill":"#bf6000"},"encoding":{"x":{"field":"x","type":"quantitative","axis":{"orient":"top","values":[0.5,1,1.5,2,2.5,3],"tickSize":-12,"labels":false,"domain":true,"title":null}},"y":{"field":"v","type":"quantitative","axis":{"orient":"right","values":[1,0.1,0.01,0.001,1e-4,1e-5,1e-6,1e-7,1e-8],"tickSize":-12,"labels":false,"domain":true,"title":null}},"y2":{"datum":1}}},
  {"transform":[{"filter":"datum.s==='c'"}],"mark":{"type":"rect","fill":"#00cc00"},"encoding":{"x":{"field":"x0","type":"quantitative","axis":null},"x2":{"field":"x1"},"y":{"field":"i1ab","type":"quantitative","axis":{"orient":"right","values":[0.8,0.5,0.2,0.08,0.05,0.02,0.008,0.005,0.002,8e-4,5e-4,2e-4,8e-5,5e-5,2e-5,8e-6,5e-6,2e-6,8e-7,5e-7,2e-7,8e-8,5e-8,2e-8],"tickSize":-6,"labels":false,"domain":false,"title":null}},"y2":{"datum":1}}},
  {"transform":[{"filter":"datum.s==='c'"}],"mark":{"type":"rect","fill":"#ff00ff"},"encoding":{"x":{"field":"x0","type":"quantitative","axis":null},"x2":{"field":"x1"},"y":{"field":"i250","type":"quantitative","axis":null},"y2":{"datum":1}}},
  {"transform":[{"filter":"datum.s==='c'"}],"mark":{"type":"rect","fill":"#87cefa"},"encoding":{"x":{"field":"x0","type":"quantitative","axis":null},"x2":{"field":"x1"},"y":{"field":"lhc","type":"quantitative","axis":null},"y2":{"datum":1}}},
  {"transform":[{"filter":"datum.s==='top'"}],"mark":{"type":"area","orient":"vertical","interpolate":"monotone","fill":"#cccccc"},"encoding":{"x":{"field":"x","type":"quantitative","axis":{"orient":"bottom","values":[0.5,1,1.5,2,2.5,3],"tickSize":-12,"labels":false,"domain":true,"title":null}},"y":{"field":"v","type":"quantitative","axis":{"orient":"left","values":[1,0.1,0.01,0.001,1e-4,1e-5,1e-6,1e-7,1e-8],"tickSize":-12,"labels":false,"domain":true,"title":"Mixing Angle (sinα)","titleX":-99,"titleY":237,"titleAngle":270,"titleBaseline":"middle","titleAlign":"center"}},"y2":{"datum":1}}},
  {"transform":[{"filter":"datum.s==='bot'"}],"mark":{"type":"area","orient":"vertical","interpolate":"monotone","fill":"#cccccc"},"encoding":{"x":{"field":"x","type":"quantitative","axis":null},"y":{"field":"v","type":"quantitative","axis":{"orient":"left","values":[0.8,0.5,0.2,0.08,0.05,0.02,0.008,0.005,0.002,8e-4,5e-4,2e-4,8e-5,5e-5,2e-5,8e-6,5e-6,2e-6,8e-7,5e-7,2e-7,8e-8,5e-8,2e-8],"tickSize":-6,"labels":false,"domain":false,"title":null}},"y2":{"datum":1e-8}}},
  {"transform":[{"filter":"datum.s==='top' && !datum.ext"}],"mark":{"type":"line","interpolate":"monotone","stroke":"black","strokeWidth":1},"encoding":{"x":{"field":"x","type":"quantitative","axis":null},"y":{"field":"v","type":"quantitative","axis":null}}},
  {"transform":[{"filter":"datum.s==='bot' && !datum.ext"}],"mark":{"type":"line","interpolate":"monotone","stroke":"black","strokeWidth":1},"encoding":{"x":{"field":"x","type":"quantitative","axis":null},"y":{"field":"v","type":"quantitative","axis":null}}},
  {"transform":[{"filter":"datum.s==='c'"}],"mark":{"type":"rule","stroke":"black","strokeWidth":1},"encoding":{"x":{"field":"x0","type":"quantitative","axis":null},"y":{"field":"b0","type":"quantitative","axis":null},"y2":{"field":"t0"}}},
  {"transform":[{"filter":"datum.s==='c'"}],"mark":{"type":"rule","stroke":"black","strokeWidth":1},"encoding":{"x":{"field":"x1","type":"quantitative","axis":null},"y":{"field":"b1","type":"quantitative","axis":null},"y2":{"field":"t1"}}},
  {"transform":[{"filter":"datum.s==='brown'"}],"mark":{"type":"line","interpolate":"monotone","stroke":"#8b3a00","strokeWidth":1},"encoding":{"x":{"field":"x","type":"quantitative","axis":null},"y":{"field":"v","type":"quantitative","axis":null}}},
  {"transform":[{"filter":"datum.s==='c'"}],"mark":{"type":"rule","stroke":"#3c3cff","strokeWidth":1.2},"encoding":{"y":{"field":"lhc","type":"quantitative","axis":null}}},
  {"transform":[{"filter":"datum.s==='c'"}],"mark":{"type":"rule","stroke":"#a020a0","strokeWidth":1.2},"encoding":{"y":{"field":"i250","type":"quantitative","axis":null}}},
  {"transform":[{"filter":"datum.s==='c'"}],"mark":{"type":"rule","stroke":"#3aa63a","strokeWidth":1.2},"encoding":{"y":{"field":"i1ab","type":"quantitative","axis":null}}},
  {"transform":[{"filter":"datum.s==='tl'"}],"mark":{"type":"text","align":"left","baseline":"middle","font":"Liberation Serif","fontSize":22},"encoding":{"x":{"field":"x","type":"quantitative","axis":null},"y":{"field":"y","type":"quantitative","axis":null},"text":{"field":"t"},"color":{"field":"k","type":"nominal","scale":{"domain":["lhc","i250","i1ab","exp","darwin","dm"],"range":["#0000ff","#ff00ff","#149414","#8b3a0a","#ff7a7a","#000000"]},"legend":null}}},
  {"transform":[{"filter":"datum.s==='tc'"}],"mark":{"type":"text","align":"center","baseline":"middle","font":"Liberation Serif","fontSize":22},"encoding":{"x":{"field":"x","type":"quantitative","axis":null},"y":{"field":"y","type":"quantitative","axis":null},"text":{"field":"t"},"color":{"field":"k","type":"nominal","scale":{"domain":["lhc","i250","i1ab","exp","darwin","dm"],"range":["#0000ff","#ff00ff","#149414","#8b3a0a","#ff7a7a","#000000"]},"legend":null}}},
  {"transform":[{"filter":"datum.s==='yl'"}],"mark":{"type":"text","align":"right","baseline":"middle","font":"Liberation Sans","fontSize":30,"dx":-31,"dy":7,"color":"black"},"encoding":{"x":{"datum":0,"type":"quantitative","axis":null},"y":{"field":"v","type":"quantitative","axis":null},"text":{"field":"b"}}},
  {"transform":[{"filter":"datum.s==='yl' && datum.e !== ''"}],"mark":{"type":"text","align":"left","baseline":"middle","font":"Liberation Sans","fontSize":21,"dx":-36,"dy":-16,"color":"black"},"encoding":{"x":{"datum":0,"type":"quantitative","axis":null},"y":{"field":"v","type":"quantitative","axis":null},"text":{"field":"e"}}}
 ]
},
{
 "width": 450, "height": 457, "data": {"name": "MR"},
 "resolve": {"axis": {"x": "independent", "y": "independent"}},
 "layer": [
  {"transform":[{"filter":"datum.s==='c'"}],"mark":{"type":"rect","fill":"white"},"encoding":{"x":{"field":"x0","type":"quantitative","scale":{"domain":[0,17.73],"nice":false,"zero":false},"axis":null},"x2":{"field":"x1"},"y":{"datum":1e-8,"type":"quantitative","scale":{"type":"log","domain":[1e-8,1],"nice":false},"axis":null},"y2":{"datum":1}}},
  {"transform":[{"filter":"datum.s==='pink' && datum.x >= 0.63 && datum.x <= 17.06"}],"mark":{"type":"area","orient":"vertical","interpolate":"monotone","fill":"#ffdcdc"},"encoding":{"x":{"field":"x","type":"quantitative","axis":{"orient":"top","values":[2,4,6,8,10,12,14,16],"tickSize":-12,"labels":false,"domain":true,"title":null}},"y":{"field":"v","type":"quantitative","axis":{"orient":"right","values":[1,0.1,0.01,0.001,1e-4,1e-5,1e-6,1e-7,1e-8],"tickSize":-6,"labels":false,"domain":false,"title":null}},"y2":{"datum":1}}},
  {"transform":[{"filter":"datum.s==='brown' && datum.x >= 0.63 && datum.x <= 17.06"}],"mark":{"type":"area","orient":"vertical","interpolate":"monotone","fill":"#bf6000"},"encoding":{"x":{"field":"x","type":"quantitative","axis":null},"y":{"field":"v","type":"quantitative","axis":null},"y2":{"datum":1}}},
  {"transform":[{"filter":"datum.s==='c'"}],"mark":{"type":"rect","fill":"#00cc00"},"encoding":{"x":{"field":"x0","type":"quantitative","axis":null},"x2":{"field":"x1"},"y":{"field":"i1ab","type":"quantitative","axis":null},"y2":{"datum":1}}},
  {"transform":[{"filter":"datum.s==='c'"}],"mark":{"type":"rect","fill":"#ff00ff"},"encoding":{"x":{"field":"x0","type":"quantitative","axis":null},"x2":{"field":"x1"},"y":{"field":"i250","type":"quantitative","axis":null},"y2":{"datum":1}}},
  {"transform":[{"filter":"datum.s==='c'"}],"mark":{"type":"rect","fill":"#87cefa"},"encoding":{"x":{"field":"x0","type":"quantitative","axis":null},"x2":{"field":"x1"},"y":{"field":"lhc","type":"quantitative","axis":null},"y2":{"datum":1}}},
  {"transform":[{"filter":"datum.s==='top'"}],"mark":{"type":"area","orient":"vertical","interpolate":"monotone","fill":"#cccccc"},"encoding":{"x":{"field":"x","type":"quantitative","axis":{"orient":"bottom","values":[2,4,6,8,10,12,14,16],"tickSize":-12,"labels":false,"domain":true,"title":null}},"y":{"field":"v","type":"quantitative","axis":{"orient":"left","values":[1,0.1,0.01,0.001,1e-4,1e-5,1e-6,1e-7,1e-8],"tickSize":-12,"labels":false,"domain":true,"title":null}},"y2":{"datum":1}}},
  {"transform":[{"filter":"datum.s==='bot'"}],"mark":{"type":"area","orient":"vertical","interpolate":"monotone","fill":"#cccccc"},"encoding":{"x":{"field":"x","type":"quantitative","axis":null},"y":{"field":"v","type":"quantitative","axis":{"orient":"left","values":[0.8,0.5,0.2,0.08,0.05,0.02,0.008,0.005,0.002,8e-4,5e-4,2e-4,8e-5,5e-5,2e-5,8e-6,5e-6,2e-6,8e-7,5e-7,2e-7,8e-8,5e-8,2e-8],"tickSize":-6,"labels":false,"domain":false,"title":null}},"y2":{"datum":1e-8}}},
  {"transform":[{"filter":"datum.s==='top' && !datum.ext"}],"mark":{"type":"line","interpolate":"monotone","stroke":"black","strokeWidth":1},"encoding":{"x":{"field":"x","type":"quantitative","axis":null},"y":{"field":"v","type":"quantitative","axis":null}}},
  {"transform":[{"filter":"datum.s==='bot' && !datum.ext"}],"mark":{"type":"line","interpolate":"monotone","stroke":"black","strokeWidth":1},"encoding":{"x":{"field":"x","type":"quantitative","axis":null},"y":{"field":"v","type":"quantitative","axis":null}}},
  {"transform":[{"filter":"datum.s==='c'"}],"mark":{"type":"rule","stroke":"black","strokeWidth":1},"encoding":{"x":{"field":"x1","type":"quantitative","axis":null},"y":{"field":"b1","type":"quantitative","axis":null},"y2":{"field":"t1"}}},
  {"transform":[{"filter":"datum.s==='brown'"}],"mark":{"type":"line","interpolate":"monotone","stroke":"#6a2c00","strokeWidth":1},"encoding":{"x":{"field":"x","type":"quantitative","axis":null},"y":{"field":"v","type":"quantitative","axis":null}}},
  {"transform":[{"filter":"datum.s==='pink'"}],"mark":{"type":"line","interpolate":"monotone","stroke":"#ff7f7f","strokeWidth":1},"encoding":{"x":{"field":"x","type":"quantitative","axis":null},"y":{"field":"v","type":"quantitative","axis":null}}},
  {"transform":[{"filter":"datum.s==='c'"}],"mark":{"type":"rule","stroke":"#3c3cff","strokeWidth":1.2},"encoding":{"y":{"field":"lhc","type":"quantitative","axis":null}}},
  {"transform":[{"filter":"datum.s==='c'"}],"mark":{"type":"rule","stroke":"#a020a0","strokeWidth":1.2},"encoding":{"y":{"field":"i250","type":"quantitative","axis":null}}},
  {"transform":[{"filter":"datum.s==='c'"}],"mark":{"type":"rule","stroke":"#3aa63a","strokeWidth":1.2},"encoding":{"y":{"field":"i1ab","type":"quantitative","axis":null}}},
  {"transform":[{"filter":"datum.s==='tl'"}],"mark":{"type":"text","align":"left","baseline":"middle","font":"Liberation Serif","fontSize":22},"encoding":{"x":{"field":"x","type":"quantitative","axis":null},"y":{"field":"y","type":"quantitative","axis":null},"text":{"field":"t"},"color":{"field":"k","type":"nominal","scale":{"domain":["lhc","i250","i1ab","exp","darwin","dm"],"range":["#0000ff","#ff00ff","#149414","#8b3a0a","#ff7a7a","#000000"]},"legend":null}}},
  {"transform":[{"filter":"datum.s==='tc'"}],"mark":{"type":"text","align":"center","baseline":"middle","font":"Liberation Serif","fontSize":22},"encoding":{"x":{"field":"x","type":"quantitative","axis":null},"y":{"field":"y","type":"quantitative","axis":null},"text":{"field":"t"},"color":{"field":"k","type":"nominal","scale":{"domain":["lhc","i250","i1ab","exp","darwin","dm"],"range":["#0000ff","#ff00ff","#149414","#8b3a0a","#ff7a7a","#000000"]},"legend":null}}}
 ]
},
{
 "width": 457, "height": 457, "data": {"name": "BL"},
 "resolve": {"axis": {"x": "independent", "y": "independent"}},
 "layer": [
  {"transform":[{"filter":"datum.s==='c'"}],"mark":{"type":"rect","fill":"white"},"encoding":{"x":{"field":"x0","type":"quantitative","scale":{"domain":[0,3.5],"nice":false,"zero":false},"axis":null},"x2":{"field":"x1"},"y":{"datum":1e-8,"type":"quantitative","scale":{"type":"log","domain":[1e-8,1],"nice":false},"axis":null},"y2":{"datum":1}}},
  {"transform":[{"filter":"datum.s==='brown' && datum.x >= 0.215 && datum.x <= 3.42"}],"mark":{"type":"area","orient":"vertical","interpolate":"monotone","fill":"#bf6000"},"encoding":{"x":{"field":"x","type":"quantitative","axis":{"orient":"top","values":[0.5,1,1.5,2,2.5,3],"tickSize":-12,"labels":false,"domain":true,"title":null}},"y":{"field":"v","type":"quantitative","axis":{"orient":"right","values":[1,0.1,0.01,0.001,1e-4,1e-5,1e-6,1e-7,1e-8],"tickSize":-12,"labels":false,"domain":true,"title":null}},"y2":{"datum":1}}},
  {"transform":[{"filter":"datum.s==='c'"}],"mark":{"type":"rect","fill":"#00cc00"},"encoding":{"x":{"field":"x0","type":"quantitative","axis":null},"x2":{"field":"x1"},"y":{"field":"i1ab","type":"quantitative","axis":{"orient":"right","values":[0.8,0.5,0.2,0.08,0.05,0.02,0.008,0.005,0.002,8e-4,5e-4,2e-4,8e-5,5e-5,2e-5,8e-6,5e-6,2e-6,8e-7,5e-7,2e-7,8e-8,5e-8,2e-8],"tickSize":-6,"labels":false,"domain":false,"title":null}},"y2":{"datum":1}}},
  {"transform":[{"filter":"datum.s==='c'"}],"mark":{"type":"rect","fill":"#ff00ff"},"encoding":{"x":{"field":"x0","type":"quantitative","axis":null},"x2":{"field":"x1"},"y":{"field":"i250","type":"quantitative","axis":null},"y2":{"datum":1}}},
  {"transform":[{"filter":"datum.s==='c'"}],"mark":{"type":"rect","fill":"#87cefa"},"encoding":{"x":{"field":"x0","type":"quantitative","axis":null},"x2":{"field":"x1"},"y":{"field":"lhc","type":"quantitative","axis":null},"y2":{"datum":1}}},
  {"transform":[{"filter":"datum.s==='top'"}],"mark":{"type":"area","orient":"vertical","interpolate":"monotone","fill":"#cccccc"},"encoding":{"x":{"field":"x","type":"quantitative","axis":{"orient":"bottom","values":[0,0.5,1,1.5,2,2.5,3],"tickSize":-12,"labels":true,"labelExpr":"datum.value % 1 === 0 ? format(datum.value, 'd') : ''","labelPadding":24,"domain":true,"title":"Mediator Mass (GeV)","titleX":220,"titleY":68,"titleBaseline":"middle","titleAlign":"center"}},"y":{"field":"v","type":"quantitative","axis":{"orient":"left","values":[1,0.1,0.01,0.001,1e-4,1e-5,1e-6,1e-7,1e-8],"tickSize":-12,"labels":false,"domain":true,"title":"Mixing Angle (sinα)","titleX":-99,"titleY":237,"titleAngle":270,"titleBaseline":"middle","titleAlign":"center"}},"y2":{"datum":1}}},
  {"transform":[{"filter":"datum.s==='bot'"}],"mark":{"type":"area","orient":"vertical","interpolate":"monotone","fill":"#cccccc"},"encoding":{"x":{"field":"x","type":"quantitative","axis":null},"y":{"field":"v","type":"quantitative","axis":{"orient":"left","values":[0.8,0.5,0.2,0.08,0.05,0.02,0.008,0.005,0.002,8e-4,5e-4,2e-4,8e-5,5e-5,2e-5,8e-6,5e-6,2e-6,8e-7,5e-7,2e-7,8e-8,5e-8,2e-8],"tickSize":-6,"labels":false,"domain":false,"title":null}},"y2":{"datum":1e-8}}},
  {"transform":[{"filter":"datum.s==='top' && !datum.ext"}],"mark":{"type":"line","interpolate":"monotone","stroke":"black","strokeWidth":1},"encoding":{"x":{"field":"x","type":"quantitative","axis":null},"y":{"field":"v","type":"quantitative","axis":null}}},
  {"transform":[{"filter":"datum.s==='bot' && !datum.ext"}],"mark":{"type":"line","interpolate":"monotone","stroke":"black","strokeWidth":1},"encoding":{"x":{"field":"x","type":"quantitative","axis":null},"y":{"field":"v","type":"quantitative","axis":null}}},
  {"transform":[{"filter":"datum.s==='c'"}],"mark":{"type":"rule","stroke":"black","strokeWidth":1},"encoding":{"x":{"field":"x0","type":"quantitative","axis":null},"y":{"field":"b0","type":"quantitative","axis":null},"y2":{"field":"t0"}}},
  {"transform":[{"filter":"datum.s==='c'"}],"mark":{"type":"rule","stroke":"black","strokeWidth":1},"encoding":{"x":{"field":"x1","type":"quantitative","axis":null},"y":{"field":"b1","type":"quantitative","axis":null},"y2":{"field":"t1"}}},
  {"transform":[{"filter":"datum.s==='brown'"}],"mark":{"type":"line","interpolate":"monotone","stroke":"#8b3a00","strokeWidth":1},"encoding":{"x":{"field":"x","type":"quantitative","axis":null},"y":{"field":"v","type":"quantitative","axis":null}}},
  {"transform":[{"filter":"datum.s==='c'"}],"mark":{"type":"rule","stroke":"#3c3cff","strokeWidth":1.2},"encoding":{"y":{"field":"lhc","type":"quantitative","axis":null}}},
  {"transform":[{"filter":"datum.s==='c'"}],"mark":{"type":"rule","stroke":"#a020a0","strokeWidth":1.2},"encoding":{"y":{"field":"i250","type":"quantitative","axis":null}}},
  {"transform":[{"filter":"datum.s==='c'"}],"mark":{"type":"rule","stroke":"#3aa63a","strokeWidth":1.2},"encoding":{"y":{"field":"i1ab","type":"quantitative","axis":null}}},
  {"transform":[{"filter":"datum.s==='tl'"}],"mark":{"type":"text","align":"left","baseline":"middle","font":"Liberation Serif","fontSize":22},"encoding":{"x":{"field":"x","type":"quantitative","axis":null},"y":{"field":"y","type":"quantitative","axis":null},"text":{"field":"t"},"color":{"field":"k","type":"nominal","scale":{"domain":["lhc","i250","i1ab","exp","darwin","dm"],"range":["#0000ff","#ff00ff","#149414","#8b3a0a","#ff7a7a","#000000"]},"legend":null}}},
  {"transform":[{"filter":"datum.s==='tc'"}],"mark":{"type":"text","align":"center","baseline":"middle","font":"Liberation Serif","fontSize":22},"encoding":{"x":{"field":"x","type":"quantitative","axis":null},"y":{"field":"y","type":"quantitative","axis":null},"text":{"field":"t"},"color":{"field":"k","type":"nominal","scale":{"domain":["lhc","i250","i1ab","exp","darwin","dm"],"range":["#0000ff","#ff00ff","#149414","#8b3a0a","#ff7a7a","#000000"]},"legend":null}}},
  {"transform":[{"filter":"datum.s==='yl'"}],"mark":{"type":"text","align":"right","baseline":"middle","font":"Liberation Sans","fontSize":30,"dx":-31,"dy":7,"color":"black"},"encoding":{"x":{"datum":0,"type":"quantitative","axis":null},"y":{"field":"v","type":"quantitative","axis":null},"text":{"field":"b"}}},
  {"transform":[{"filter":"datum.s==='yl' && datum.e !== ''"}],"mark":{"type":"text","align":"left","baseline":"middle","font":"Liberation Sans","fontSize":21,"dx":-36,"dy":-16,"color":"black"},"encoding":{"x":{"datum":0,"type":"quantitative","axis":null},"y":{"field":"v","type":"quantitative","axis":null},"text":{"field":"e"}}}
 ]
},
{
 "width": 450, "height": 457, "data": {"name": "BR"},
 "resolve": {"axis": {"x": "independent", "y": "independent"}},
 "layer": [
  {"transform":[{"filter":"datum.s==='c'"}],"mark":{"type":"rect","fill":"white"},"encoding":{"x":{"field":"x0","type":"quantitative","scale":{"domain":[0,17.73],"nice":false,"zero":false},"axis":null},"x2":{"field":"x1"},"y":{"datum":1e-8,"type":"quantitative","scale":{"type":"log","domain":[1e-8,1],"nice":false},"axis":null},"y2":{"datum":1}}},
  {"transform":[{"filter":"datum.s==='pink' && datum.x >= 0.552 && datum.x <= 17.06"}],"mark":{"type":"area","orient":"vertical","interpolate":"monotone","fill":"#ffdcdc"},"encoding":{"x":{"field":"x","type":"quantitative","axis":{"orient":"top","values":[2,4,6,8,10,12,14,16],"tickSize":-12,"labels":false,"domain":true,"title":null}},"y":{"field":"v","type":"quantitative","axis":{"orient":"right","values":[1,0.1,0.01,0.001,1e-4,1e-5,1e-6,1e-7,1e-8],"tickSize":-6,"labels":false,"domain":false,"title":null}},"y2":{"datum":1}}},
  {"transform":[{"filter":"datum.s==='brown' && datum.x >= 0.552 && datum.x <= 17.06"}],"mark":{"type":"area","orient":"vertical","interpolate":"monotone","fill":"#bf6000"},"encoding":{"x":{"field":"x","type":"quantitative","axis":null},"y":{"field":"v","type":"quantitative","axis":null},"y2":{"datum":1}}},
  {"transform":[{"filter":"datum.s==='c'"}],"mark":{"type":"rect","fill":"#00cc00"},"encoding":{"x":{"field":"x0","type":"quantitative","axis":null},"x2":{"field":"x1"},"y":{"field":"i1ab","type":"quantitative","axis":null},"y2":{"datum":1}}},
  {"transform":[{"filter":"datum.s==='c'"}],"mark":{"type":"rect","fill":"#ff00ff"},"encoding":{"x":{"field":"x0","type":"quantitative","axis":null},"x2":{"field":"x1"},"y":{"field":"i250","type":"quantitative","axis":null},"y2":{"datum":1}}},
  {"transform":[{"filter":"datum.s==='c'"}],"mark":{"type":"rect","fill":"#87cefa"},"encoding":{"x":{"field":"x0","type":"quantitative","axis":null},"x2":{"field":"x1"},"y":{"field":"lhc","type":"quantitative","axis":null},"y2":{"datum":1}}},
  {"transform":[{"filter":"datum.s==='top'"}],"mark":{"type":"area","orient":"vertical","interpolate":"monotone","fill":"#cccccc"},"encoding":{"x":{"field":"x","type":"quantitative","axis":{"orient":"bottom","values":[0,2,4,6,8,10,12,14,16],"tickSize":-12,"labels":true,"labelExpr":"datum.value % 4 === 0 ? format(datum.value, 'd') : ''","labelPadding":24,"domain":true,"title":"Mediator Mass (GeV)","titleX":218,"titleY":68,"titleBaseline":"middle","titleAlign":"center"}},"y":{"field":"v","type":"quantitative","axis":{"orient":"left","values":[1,0.1,0.01,0.001,1e-4,1e-5,1e-6,1e-7,1e-8],"tickSize":-12,"labels":false,"domain":true,"title":null}},"y2":{"datum":1}}},
  {"transform":[{"filter":"datum.s==='bot'"}],"mark":{"type":"area","orient":"vertical","interpolate":"monotone","fill":"#cccccc"},"encoding":{"x":{"field":"x","type":"quantitative","axis":null},"y":{"field":"v","type":"quantitative","axis":{"orient":"left","values":[0.8,0.5,0.2,0.08,0.05,0.02,0.008,0.005,0.002,8e-4,5e-4,2e-4,8e-5,5e-5,2e-5,8e-6,5e-6,2e-6,8e-7,5e-7,2e-7,8e-8,5e-8,2e-8],"tickSize":-6,"labels":false,"domain":false,"title":null}},"y2":{"datum":1e-8}}},
  {"transform":[{"filter":"datum.s==='top' && !datum.ext"}],"mark":{"type":"line","interpolate":"monotone","stroke":"black","strokeWidth":1},"encoding":{"x":{"field":"x","type":"quantitative","axis":null},"y":{"field":"v","type":"quantitative","axis":null}}},
  {"transform":[{"filter":"datum.s==='bot' && !datum.ext"}],"mark":{"type":"line","interpolate":"monotone","stroke":"black","strokeWidth":1},"encoding":{"x":{"field":"x","type":"quantitative","axis":null},"y":{"field":"v","type":"quantitative","axis":null}}},
  {"transform":[{"filter":"datum.s==='c'"}],"mark":{"type":"rule","stroke":"black","strokeWidth":1},"encoding":{"x":{"field":"x1","type":"quantitative","axis":null},"y":{"field":"b1","type":"quantitative","axis":null},"y2":{"field":"t1"}}},
  {"transform":[{"filter":"datum.s==='brown'"}],"mark":{"type":"line","interpolate":"monotone","stroke":"#6a2c00","strokeWidth":1},"encoding":{"x":{"field":"x","type":"quantitative","axis":null},"y":{"field":"v","type":"quantitative","axis":null}}},
  {"transform":[{"filter":"datum.s==='pink'"}],"mark":{"type":"line","interpolate":"monotone","stroke":"#ff7f7f","strokeWidth":1},"encoding":{"x":{"field":"x","type":"quantitative","axis":null},"y":{"field":"v","type":"quantitative","axis":null}}},
  {"transform":[{"filter":"datum.s==='c'"}],"mark":{"type":"rule","stroke":"#3c3cff","strokeWidth":1.2},"encoding":{"y":{"field":"lhc","type":"quantitative","axis":null}}},
  {"transform":[{"filter":"datum.s==='c'"}],"mark":{"type":"rule","stroke":"#a020a0","strokeWidth":1.2},"encoding":{"y":{"field":"i250","type":"quantitative","axis":null}}},
  {"transform":[{"filter":"datum.s==='c'"}],"mark":{"type":"rule","stroke":"#3aa63a","strokeWidth":1.2},"encoding":{"y":{"field":"i1ab","type":"quantitative","axis":null}}},
  {"transform":[{"filter":"datum.s==='tl'"}],"mark":{"type":"text","align":"left","baseline":"middle","font":"Liberation Serif","fontSize":22},"encoding":{"x":{"field":"x","type":"quantitative","axis":null},"y":{"field":"y","type":"quantitative","axis":null},"text":{"field":"t"},"color":{"field":"k","type":"nominal","scale":{"domain":["lhc","i250","i1ab","exp","darwin","dm"],"range":["#0000ff","#ff00ff","#149414","#8b3a0a","#ff7a7a","#000000"]},"legend":null}}},
  {"transform":[{"filter":"datum.s==='tc'"}],"mark":{"type":"text","align":"center","baseline":"middle","font":"Liberation Serif","fontSize":22},"encoding":{"x":{"field":"x","type":"quantitative","axis":null},"y":{"field":"y","type":"quantitative","axis":null},"text":{"field":"t"},"color":{"field":"k","type":"nominal","scale":{"domain":["lhc","i250","i1ab","exp","darwin","dm"],"range":["#0000ff","#ff00ff","#149414","#8b3a0a","#ff7a7a","#000000"]},"legend":null}}}
 ]
}
]
}
